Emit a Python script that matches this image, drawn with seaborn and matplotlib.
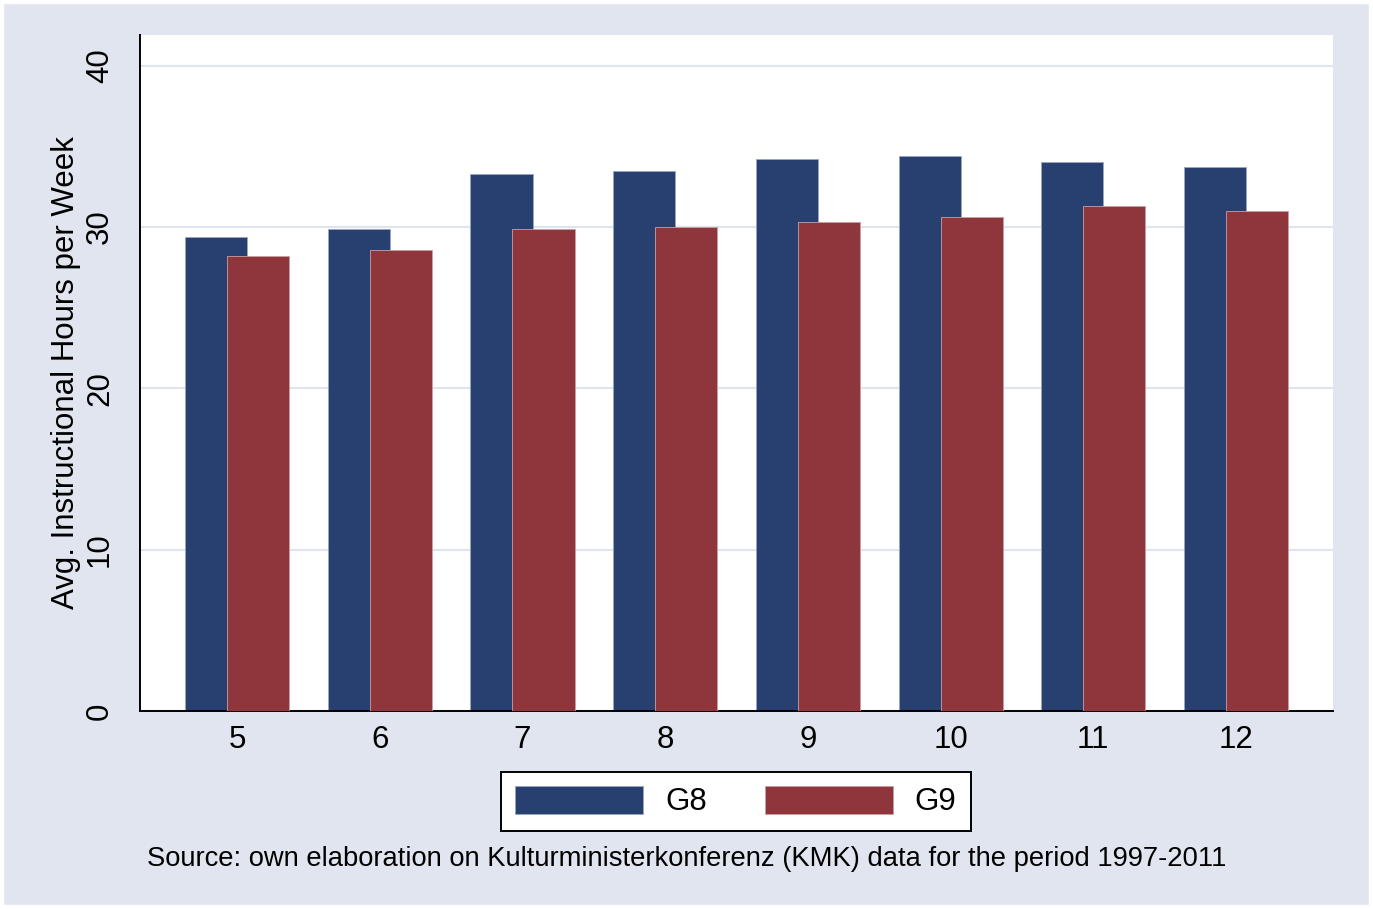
import numpy as np
import matplotlib.pyplot as plt
import matplotlib.patches as mpatches
import seaborn as sns

# grades and average weekly hours
grades = np.array([5, 6, 7, 8, 9, 10, 11, 12])
g8_hours = [29.4, 29.9, 33.3, 33.5, 34.2, 34.4, 34.0, 33.7]
g9_hours = [28.2, 28.6, 29.9, 30.0, 30.3, 30.6, 31.3, 31.0]
series_labels = ["G8", "G9"]
y_ticks = [0, 10, 20, 30, 40]
source_note = "Source: own elaboration on Kulturministerkonferenz (KMK) data for the period 1997-2011"

navy = "#27406f"
maroon = "#8f353c"
bg = "#e1e5ef"

sns.set_style("white")
plt.rcParams['font.family'] = ['Liberation Sans', 'DejaVu Sans']
plt.rcParams['text.color'] = 'black'
plt.rcParams['axes.labelcolor'] = 'black'
plt.rcParams['xtick.color'] = 'black'
plt.rcParams['ytick.color'] = 'black'

fs = 22.5

fig = plt.figure(figsize=(13.73, 9.09), dpi=100)
fig.patch.set_facecolor(bg)
ax = fig.add_axes([0.102, 0.2178, 0.8689, 0.7437])
ax.set_facecolor("white")

# overlapping bars: G9 is drawn on top of G8, shifted to the right
offset = 0.147
sns.barplot(x=grades - offset, y=g8_hours, native_scale=True, width=0.435,
            color=navy, saturation=1, edgecolor="#9aa6c2", linewidth=0.6, ax=ax, zorder=2)
sns.barplot(x=grades + offset, y=g9_hours, native_scale=True, width=0.435,
            color=maroon, saturation=1, edgecolor="#c9a0a4", linewidth=0.6, ax=ax, zorder=3)

ax.set_xlim(grades[0] - 0.68, grades[-1] + 0.68)
ax.set_ylim(0, 41.9)
ax.set_xticks(grades)
ax.set_xticklabels([str(g) for g in grades], fontsize=fs)
ax.set_yticks(y_ticks)
ax.set_yticklabels([str(t) for t in y_ticks], fontsize=fs, rotation=90, va="center")
ax.tick_params(axis="y", length=13, width=1.4, direction="out", pad=5, color="black")
ax.tick_params(axis="x", length=0, pad=10)

ax.grid(axis="y", color="#e0e4ee", linewidth=1.6, zorder=0)
ax.set_axisbelow(True)

for side in ["top", "right"]:
    ax.spines[side].set_visible(False)
for side in ["left", "bottom"]:
    ax.spines[side].set_color("black")
    ax.spines[side].set_linewidth(1.4)

ax.set_ylabel("Avg. Instructional Hours per Week", fontsize=fs, labelpad=3)
ax.set_xlabel("")

handles = [mpatches.Patch(facecolor=navy, edgecolor="#9aa6c2", linewidth=0.6),
           mpatches.Patch(facecolor=maroon, edgecolor="#c9a0a4", linewidth=0.6)]
leg = fig.legend(handles, series_labels, loc="center", bbox_to_anchor=(0.536, 0.1183),
                 ncol=2, fontsize=fs, frameon=True, fancybox=False, framealpha=1,
                 handlelength=4.1, handleheight=1.0, handletextpad=0.7,
                 columnspacing=1.85, borderpad=0.45)
leg.get_frame().set_edgecolor("black")
leg.get_frame().set_linewidth(1.4)
leg.get_frame().set_facecolor("white")

fig.text(0.5, 1 - 859 / 909, source_note, ha="center", va="center", fontsize=19.7)

# thin white frame around the graph region
fig.patches.append(mpatches.Rectangle((0, 0), 1, 1, transform=fig.transFigure,
                                      fill=False, edgecolor="white", linewidth=6))

fig.savefig("out.png", dpi=100, facecolor=fig.get_facecolor())
